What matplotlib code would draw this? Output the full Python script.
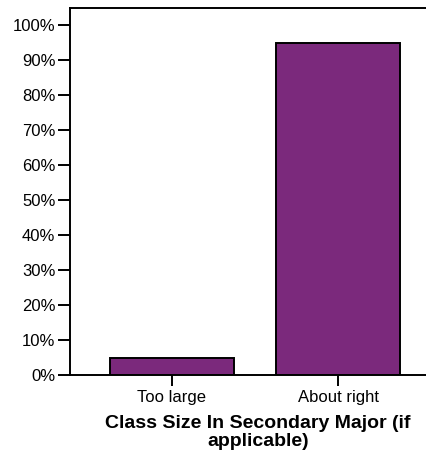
import matplotlib
matplotlib.use('Agg')

import matplotlib.pyplot as plt
from matplotlib.ticker import PercentFormatter

# data
categories = ['Too large', 'About right']
percents = [5.0, 95.0]
yticks = [0, 10, 20, 30, 40, 50, 60, 70, 80, 90, 100]

plt.rcParams['font.family'] = ['Liberation Sans', 'DejaVu Sans']

fig = plt.figure(figsize=(4.26, 4.57), dpi=100)
# axes runs a little past the right edge of the figure (as in the original)
ax = fig.add_axes([70 / 426, 1 - 375 / 457, 376 / 426, (375 - 8) / 457])

x = range(len(categories))
ax.bar(x, percents, width=0.75, color='#7B297C', edgecolor='black', linewidth=1.4)

ax.set_xlim(-0.614, 1.65)
ax.set_ylim(0, 105)
ax.set_xticks(list(x))
ax.set_xticklabels(categories)
ax.set_yticks(yticks)
ax.yaxis.set_major_formatter(PercentFormatter(decimals=0))
ax.tick_params(axis='both', labelsize=12, width=1.4, length=8.5, pad=2, direction='out', colors='black')
ax.tick_params(axis='x', length=8, pad=3)

ax.spines['right'].set_visible(False)
for s in ['left', 'top', 'bottom']:
    ax.spines[s].set_linewidth(1.4)

ax.set_xlabel('Class Size In Secondary Major (if\napplicable)', fontsize=14,
              fontweight='bold', linespacing=1.1, labelpad=7)

fig.savefig('out.png', dpi=100)
